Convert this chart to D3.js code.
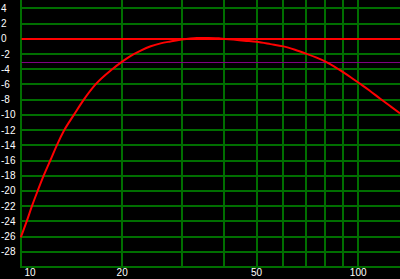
<!DOCTYPE html>
<html><head><meta charset="utf-8">
<script src="https://cdn.jsdelivr.net/npm/d3@7"></script>
<style>html,body{margin:0;padding:0;background:#000;}svg{display:block;}</style>
</head><body>
<script>
const freqs = [10.02, 10.43, 10.81, 11.24, 11.71, 12.25, 12.81, 13.48, 14.39, 15.4, 16.68, 18.69, 20, 21.1, 22.7, 24.3, 26, 27.8, 30, 33.3, 36, 39, 42.7, 46, 50, 55, 60, 65, 70, 75, 80, 85, 90, 95, 100, 108, 116, 125, 133];
const gains = [-26.1, -24, -22, -20, -18, -16, -14, -12, -10, -8, -6, -4, -3, -2.3, -1.55, -0.98, -0.6, -0.35, -0.1, 0.1, 0.12, 0.05, -0.1, -0.25, -0.4, -0.7, -1.0, -1.45, -1.95, -2.45, -3.0, -3.65, -4.35, -5.05, -5.75, -6.8, -7.85, -8.92, -9.8];
const xGrid = [10, 20, 30, 40, 50, 60, 70, 80, 90, 100];
const xLabels = [10, 20, 50, 100];
const yTicks = [4, 2, 0, -2, -4, -6, -8, -10, -12, -14, -16, -18, -20, -22, -24, -26, -28];
const refLevel = 0;
const markLevel = -3;

(function () {
const W = 400, H = 279;
const pL = 20.5, pR = 400, pT = 0, pB = 267;
const x = d3.scaleLog().domain([10, 133]).range([pL, pR]);
const y = d3.scaleLinear().domain([-30, 5.1]).range([pB, pT]);

const svg = d3.select("body").append("svg").attr("width", W).attr("height", H);
svg.append("rect").attr("width", W).attr("height", H).attr("fill", "#000");

const grid = "#006e00";
const r = v => Math.round(v);

svg.append("g").selectAll("line").data(yTicks.concat([-30])).join("line")
  .attr("x1", pL - 0.5).attr("x2", pR)
  .attr("y1", d => r(y(d))).attr("y2", d => r(y(d)))
  .attr("stroke", grid).attr("stroke-width", 2);

svg.append("g").selectAll("line").data(xGrid).join("line")
  .attr("x1", d => r(x(d))).attr("x2", d => r(x(d)))
  .attr("y1", pT).attr("y2", r(y(-30)) + 1)
  .attr("stroke", grid).attr("stroke-width", 2);

svg.append("line").attr("x1", pL + 1).attr("x2", pR)
  .attr("y1", r(y(markLevel)) + 0.5).attr("y2", r(y(markLevel)) + 0.5)
  .attr("stroke", "#800080").attr("stroke-width", 1);
svg.append("line").attr("x1", pL + 1).attr("x2", pR)
  .attr("y1", r(y(refLevel))).attr("y2", r(y(refLevel)))
  .attr("stroke", "#ff0000").attr("stroke-width", 2);

const line = d3.line().x((d, i) => x(freqs[i])).y(d => y(d)).curve(d3.curveMonotoneX);
svg.append("path").attr("d", line(gains))
  .attr("fill", "none").attr("stroke", "#ff0000").attr("stroke-width", 2);

svg.append("g").selectAll("text").data(yTicks).join("text")
  .attr("x", 1).attr("y", d => y(d)).attr("dy", "0.35em")
  .attr("fill", "#fff").attr("font-family", "Liberation Sans, Arial, sans-serif")
  .attr("font-size", 10).text(d => d);

svg.append("g").selectAll("text").data(xLabels).join("text")
  .attr("x", d => Math.max(30, x(d))).attr("y", 272.5).attr("dy", "0.35em")
  .attr("text-anchor", "middle")
  .attr("fill", "#fff").attr("font-family", "Liberation Sans, Arial, sans-serif")
  .attr("font-size", 10).text(d => d);
})();
</script>
</body></html>
